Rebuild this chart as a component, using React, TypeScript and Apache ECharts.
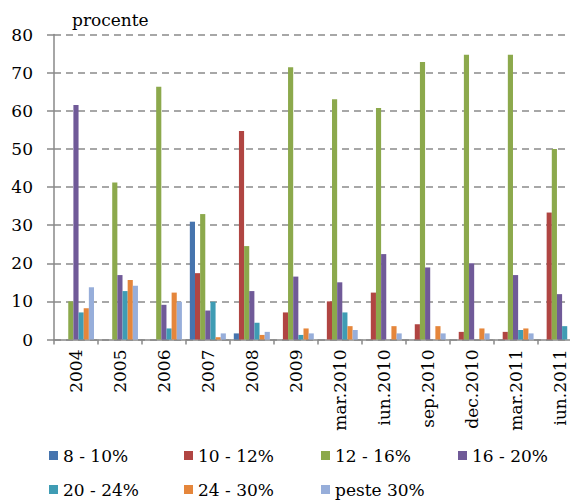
import React, { useEffect, useRef } from 'react';
import * as echarts from 'echarts';

const categories = ['2004', '2005', '2006', '2007', '2008', '2009', 'mar.2010', 'iun.2010', 'sep.2010', 'dec.2010', 'mar.2011', 'iun.2011'];
const seriesNames = ['8 - 10%', '10 - 12%', '12 - 16%', '16 - 20%', '20 - 24%', '24 - 30%', 'peste 30%'];
const s8to10 = [0, 0, 0, 30.9, 1.6, 0, 0, 0, 0, 0, 0, 0];
const s10to12 = [0, 0, 0, 17.4, 54.7, 7.1, 10.0, 12.3, 4.0, 2.0, 2.0, 33.3];
const s12to16 = [10.0, 41.2, 66.3, 32.9, 24.5, 71.4, 63.0, 60.7, 72.8, 74.7, 74.7, 50.0];
const s16to20 = [61.5, 16.9, 9.1, 7.6, 12.7, 16.5, 15.0, 22.4, 18.9, 20.0, 16.9, 11.9];
const s20to24 = [7.1, 12.7, 2.9, 9.9, 4.4, 1.2, 7.1, 0, 0, 0, 2.5, 3.5];
const s24to30 = [8.2, 15.6, 12.3, 0.6, 1.2, 2.9, 3.5, 3.5, 3.5, 2.9, 2.9, 0];
const sOver30 = [13.7, 14.1, 9.9, 1.6, 2.0, 1.6, 2.5, 1.6, 1.6, 1.6, 1.6, 0];
const yTicks = { min: 0, max: 80, interval: 10 };
const unitLabel = 'procente';

const colors = ['#4674AE', '#B04542', '#8CA94C', '#705A98', '#3F9CB4', '#E5863B', '#97AEDA'];
const FONT = 'DejaVu Serif';

export default function App() {
  const ref = useRef<HTMLDivElement>(null);
  useEffect(() => {
    const chart = echarts.init(ref.current!, null, { renderer: 'svg' });
    const allData = [s8to10, s10to12, s12to16, s16to20, s20to24, s24to30, sOver30];
    const legendPos = [
      [47, 445], [182, 445], [319, 445], [456, 445],
      [47, 479], [182, 479], [319, 479],
    ];
    chart.setOption({
      animation: false,
      backgroundColor: '#fff',
      color: colors,
      textStyle: { fontFamily: FONT },
      grid: { left: 54, right: 18.5, top: 34.5, bottom: 162.5, containLabel: false },
      legend: seriesNames.map((n, i) => ({
        data: [n],
        left: legendPos[i][0],
        top: legendPos[i][1],
        icon: 'rect',
        itemWidth: 9,
        itemHeight: 9,
        itemGap: 0,
        padding: 2,
        selectedMode: false,
        textStyle: { fontFamily: FONT, fontSize: 17, color: '#000' },
      })),
      xAxis: {
        type: 'category',
        data: categories,
        axisLine: { lineStyle: { color: '#888', width: 1.5 } },
        axisTick: { show: true, interval: 0, length: 5, lineStyle: { color: '#888', width: 1.5 } },
        axisLabel: { interval: 0, rotate: 90, margin: 10, fontFamily: FONT, fontSize: 17, color: '#000' },
      },
      yAxis: {
        type: 'value',
        min: yTicks.min,
        max: yTicks.max,
        interval: yTicks.interval,
        name: unitLabel,
        nameLocation: 'end',
        nameGap: 6,
        nameTextStyle: { fontFamily: FONT, fontSize: 17, color: '#000', align: 'left', padding: [0, 0, 0, 18] },
        axisLine: { show: true, lineStyle: { color: '#888', width: 1.5 } },
        axisTick: { show: true, length: 7, lineStyle: { color: '#888', width: 1.5 } },
        axisLabel: { margin: 21, fontFamily: FONT, fontSize: 17, color: '#000' },
        splitLine: { show: true, lineStyle: { color: '#8a8a8a', width: 1.5, type: [7, 5] } },
      },
      series: seriesNames.map((n, i) => ({
        name: n,
        type: 'bar',
        data: allData[i],
        barGap: '0%',
        barCategoryGap: '18%',
        itemStyle: { color: colors[i] },
      })),
    });
    return () => chart.dispose();
  }, []);
  return (
    <div style={{ position: 'fixed', left: 0, top: 0, width: 570, height: 502, overflow: 'hidden', background: '#fff' }}>
      <div ref={ref} style={{ width: 600, height: 502 }} />
    </div>
  );
}
